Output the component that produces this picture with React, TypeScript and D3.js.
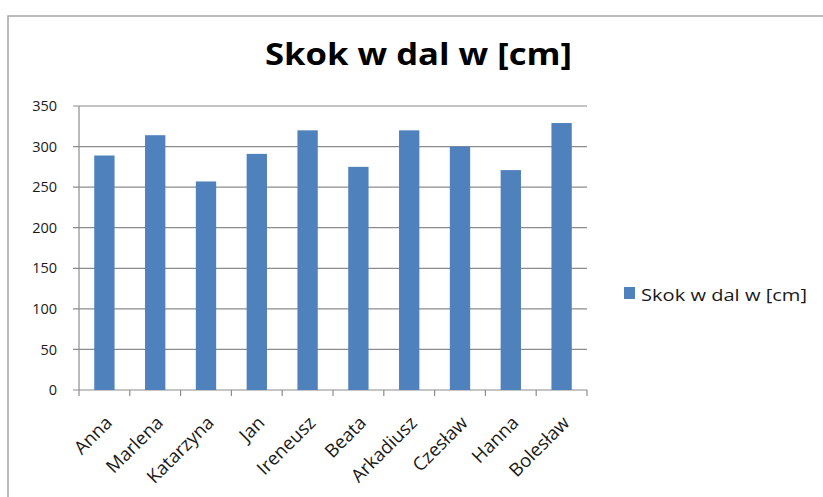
import React from "react";
import * as d3 from "d3";

const categories = ["Anna", "Marlena", "Katarzyna", "Jan", "Ireneusz", "Beata", "Arkadiusz", "Czesław", "Hanna", "Bolesław"];
const values = [289, 314, 257, 291, 320, 275, 320, 300, 271, 329];
const yTicks = [0, 50, 100, 150, 200, 250, 300, 350];
const seriesName = "Skok w dal w [cm]";
const title = "Skok w dal w [cm]";

const W = 823;
const H = 497;
const plot = { left: 79, right: 587, top: 106, bottom: 390 };
const FONT = "'Open Sans', 'Noto Sans', sans-serif";
const BAR = "#4F81BD";
const GRID = "#8c8c8c";

export default function App() {
  const x = d3.scaleBand<string>().domain(categories).range([plot.left, plot.right]).paddingInner(0.6).paddingOuter(0.3);
  const xb = d3.scaleBand<string>().domain(categories).range([plot.left, plot.right]);
  const y = d3.scaleLinear().domain([0, 350]).range([plot.bottom, plot.top]);
  const boundaries = d3.range(categories.length + 1).map((i) => plot.left + i * xb.step());

  return (
    <svg width={W} height={H} style={{ position: "absolute", left: 0, top: 0, background: "#fff" }}>
      <rect x={0} y={0} width={W} height={H} fill="#fff" />
      <rect x={8} y={16} width={W + 20} height={H + 20} fill="#fff" stroke="#a6a6a6" strokeWidth={1.5} />
      <text x={265} y={65} textLength={307} lengthAdjust="spacingAndGlyphs" fontFamily={FONT} fontWeight={700} fontSize={31} fill="#000">
        {title}
      </text>
      {yTicks.map((t) => (
        <g key={t}>
          <line x1={plot.left - 6} x2={plot.right} y1={y(t)} y2={y(t)} stroke={GRID} strokeWidth={1.2} />
          <text x={plot.left - 22} y={y(t)} dy="0.35em" textAnchor="end" fontFamily={FONT} fontSize={14.5} fill="#1a1a1a">
            {t}
          </text>
        </g>
      ))}
      <line x1={plot.left} x2={plot.left} y1={plot.top} y2={plot.bottom} stroke={GRID} strokeWidth={1.2} />
      {boundaries.map((bx, i) => (
        <line key={i} x1={bx} x2={bx} y1={plot.bottom} y2={plot.bottom + 6} stroke={GRID} strokeWidth={1.2} />
      ))}
      {categories.map((c, i) => (
        <rect key={c} x={x(c)} y={y(values[i])} width={x.bandwidth()} height={plot.bottom - y(values[i])} fill={BAR} />
      ))}
      {categories.map((c) => {
        const cx = (xb(c) as number) + xb.bandwidth() / 2 + 9;
        const cy = plot.bottom + 34;
        return (
          <text key={c} x={cx} y={cy} textAnchor="end" transform={`rotate(-45 ${cx} ${cy})`} fontFamily={FONT} fontSize={18.5} fill="#1a1a1a">
            {c}
          </text>
        );
      })}
      <rect x={624} y={287} width={11} height={12} fill={BAR} />
      <text x={641} y={301} textLength={166} lengthAdjust="spacingAndGlyphs" fontFamily={FONT} fontSize={17} fill="#1a1a1a">
        {seriesName}
      </text>
    </svg>
  );
}
